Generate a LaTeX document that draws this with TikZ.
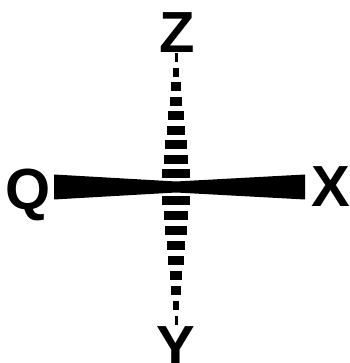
\documentclass[tikz,border=0pt]{standalone}
\usepackage{fontspec}
\setmainfont{Liberation Sans}
\usetikzlibrary{calc}
\tikzset{
  lbl/.style={inner sep=0pt, anchor=base, font=\fontsize{58}{58}\selectfont\bfseries},
  wedgefill/.style={fill=black, draw=none},
  hashbar/.style={fill=black, draw=none}
}
\begin{document}
\begin{tikzpicture}[x=1pt,y=1pt]
\useasboundingbox (0,0) rectangle (349,363);
\coordinate (c) at (176,176);
\node[lbl] (Z) at (177.5,310) {Z};
\node[lbl] (Y) at (176,-4) {Y};
\node[lbl] (Q) at (28,153) {Q};
\node[lbl] (X) at (331,156) {X};
\coordinate (qend) at (54,176);
\coordinate (xend) at (305,176);
% solid wedges
\fill[wedgefill] ($(c)+(0,5.5)$) -- ($(qend)+(0,12.5)$) -- ($(qend)+(0,-12.5)$) -- ($(c)+(0,-5.5)$) -- cycle;
\fill[wedgefill] ($(c)+(0,5.5)$) -- ($(xend)+(0,12.5)$) -- ($(xend)+(0,-12.5)$) -- ($(c)+(0,-5.5)$) -- cycle;
% hashed wedges
\foreach \i in {0,...,8}{
  \pgfmathsetmacro{\w}{14-1.5625*\i}
  \pgfmathsetmacro{\yu}{189+14.5*\i}
  \pgfmathsetmacro{\yl}{162-15*\i}
  \fill[hashbar] ($(c)+(-\w,\yu-176-4.5)$) rectangle ($(c)+(\w,\yu-176+4.5)$);
  \fill[hashbar] ($(c)+(-\w,\yl-176-4.5)$) rectangle ($(c)+(\w,\yl-176+4.5)$);
}
\end{tikzpicture}
\end{document}
